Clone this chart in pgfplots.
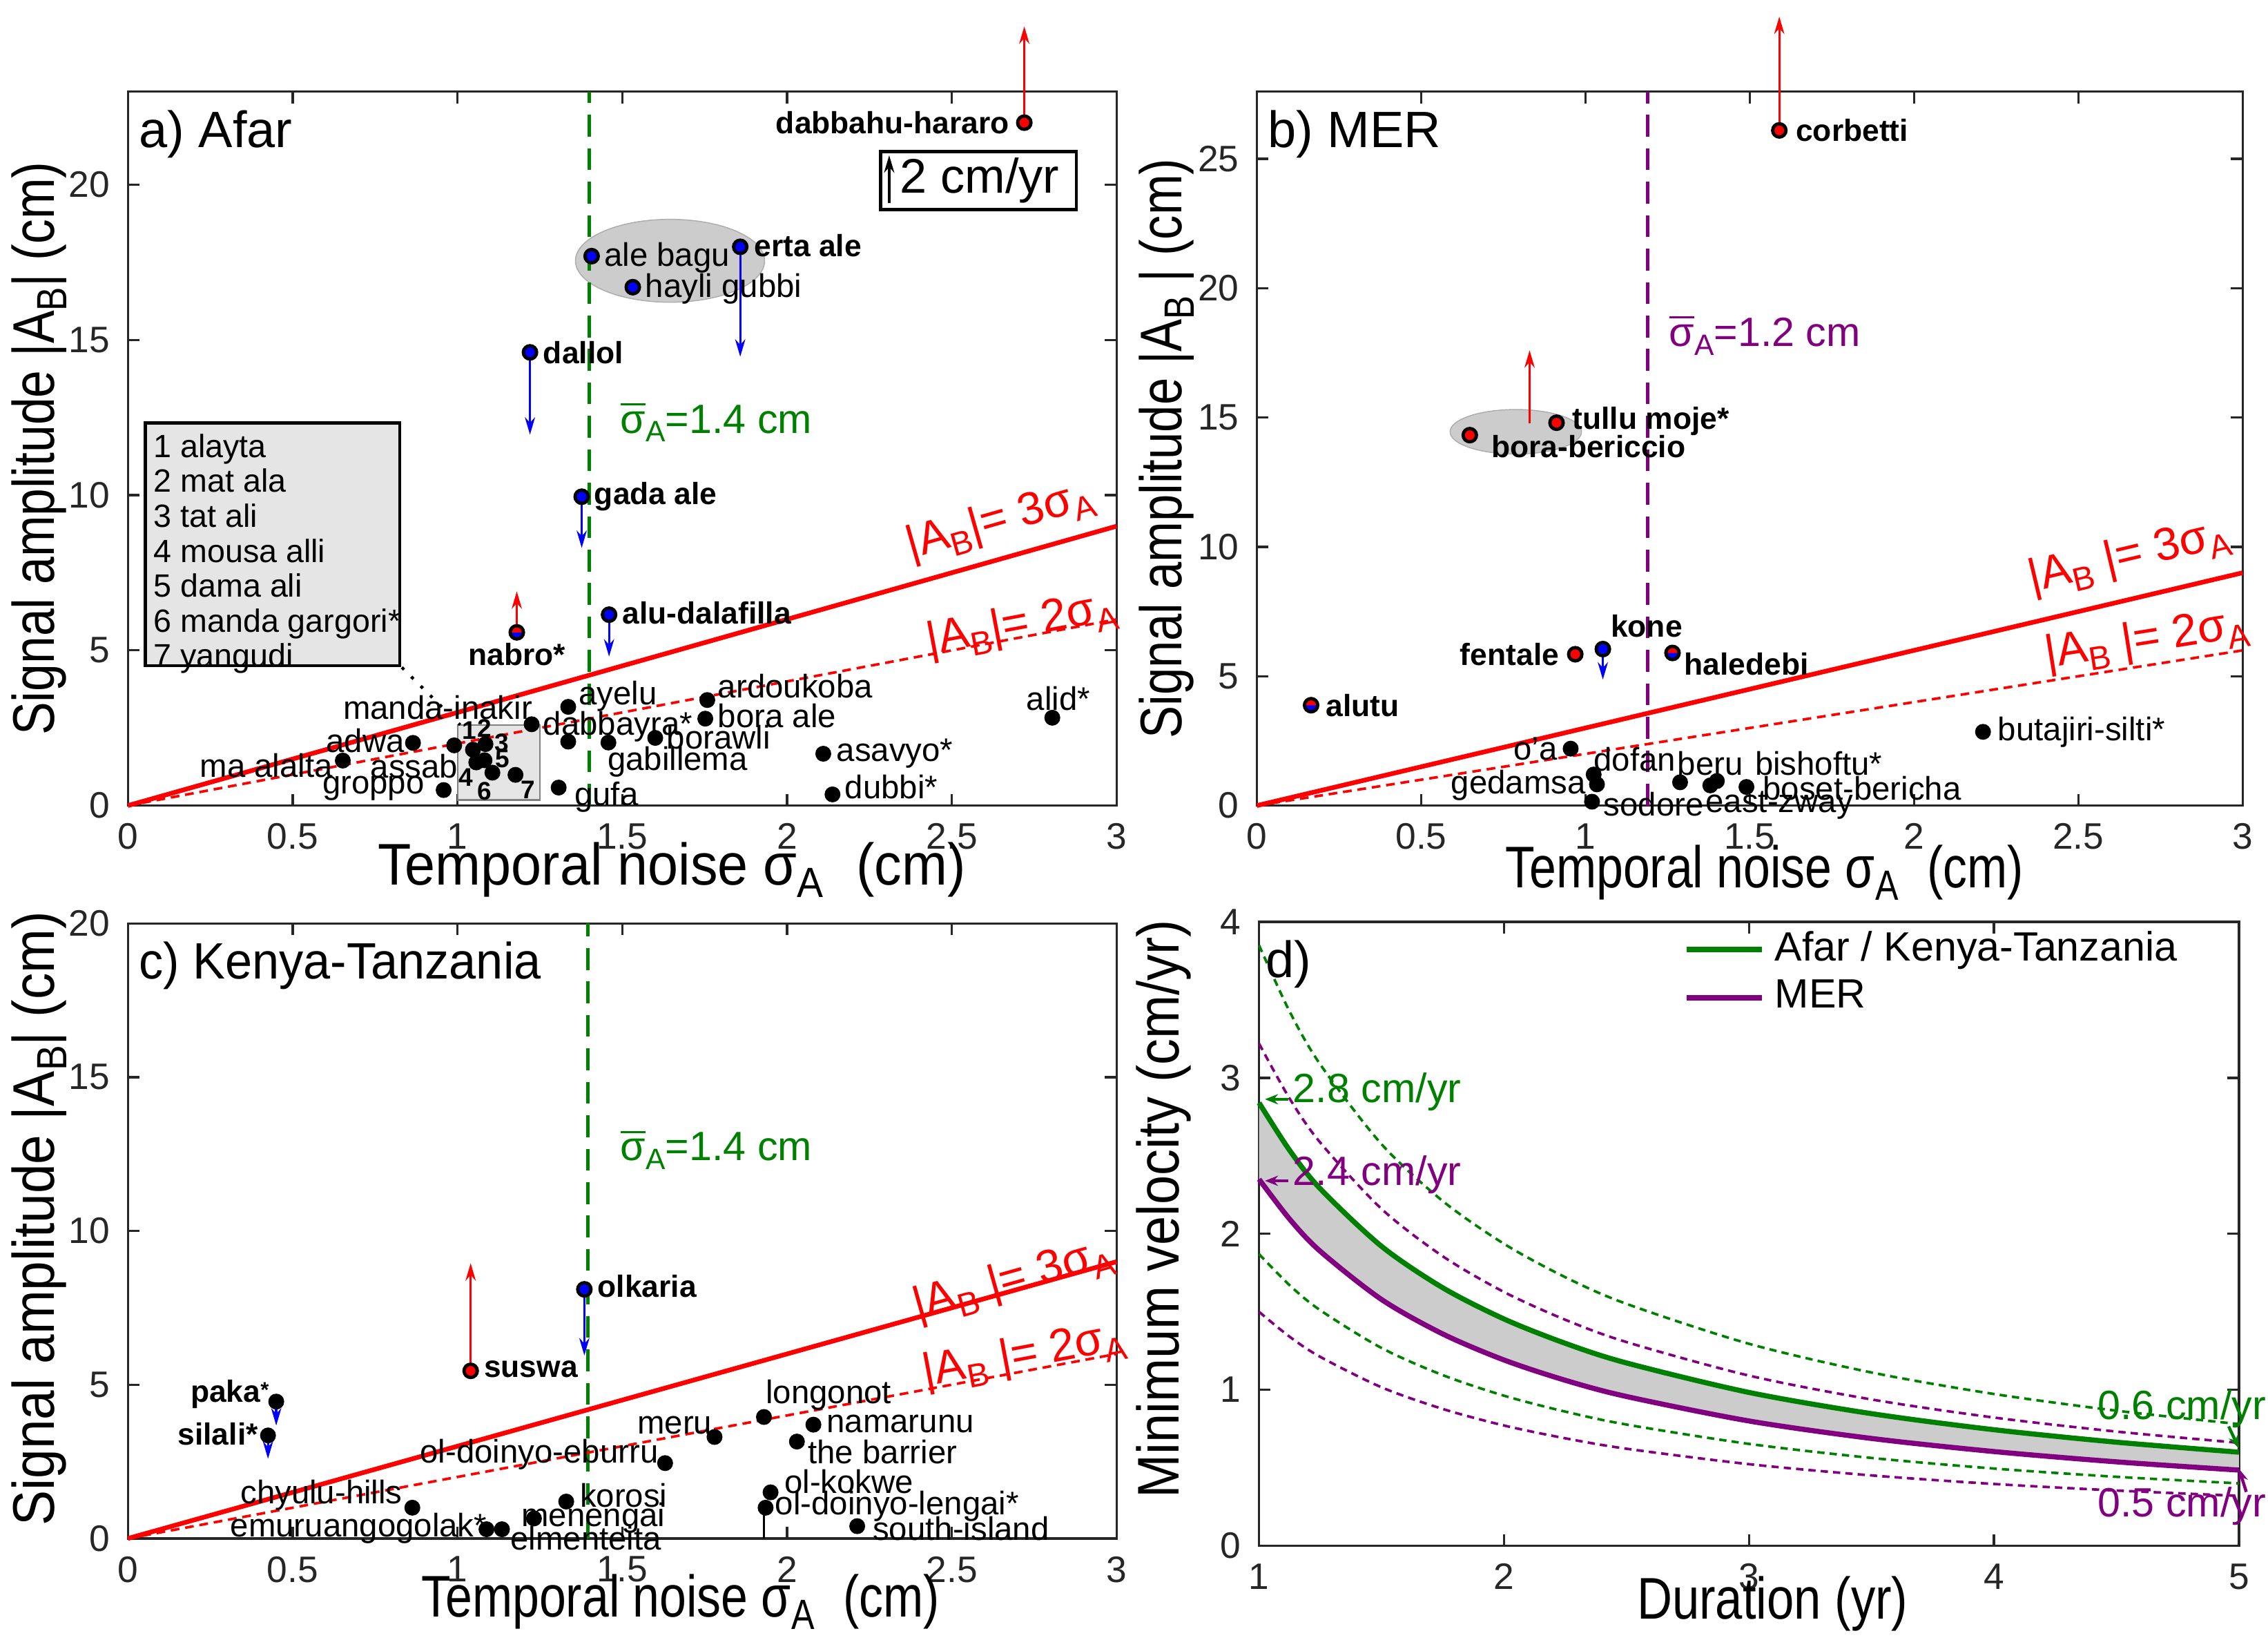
\documentclass[border=0pt]{standalone}
\usepackage{fontspec}
\setmainfont{Liberation Sans}
\usepackage{graphicx}
\usepackage{pgfplots}
\pgfplotsset{compat=1.18}
\usepgfplotslibrary{fillbetween}
\usetikzlibrary{arrows.meta}

\definecolor{mgreen}{rgb}{0,0.5,0}
\definecolor{mpurple}{rgb}{0.5,0,0.5}
\definecolor{axgray}{rgb}{0.15,0.15,0.15}
\definecolor{ellgray}{rgb}{0.8,0.8,0.8}
\definecolor{boxgray}{rgb}{0.9,0.9,0.9}

\newcommand\sub[1]{\raisebox{-0.4ex}{\scalebox{0.72}{#1}}}
\newcommand\sbar{\ensuremath{\overline{\mbox{σ}}}}
\newcommand\tickf{\fontsize{7.2}{8}\selectfont}
\newcommand\labf{\fontsize{11.5}{13}\selectfont}
\newcommand\stf{\fontsize{6.4}{7.2}\selectfont}
\newcommand\bstf{\fontsize{6.0}{7.2}\selectfont\bfseries}
\newcommand\ttlf{\fontsize{10}{12}\selectfont}
\newcommand\rlf{\fontsize{9}{10}\selectfont}
\newcommand\sgf{\fontsize{8}{9}\selectfont}
\newcommand\sx[2]{\scalebox{#1}[1]{#2}}

\tikzset{st/.style={font=\stf, inner sep=0.8pt}, bst/.style={font=\bstf, inner sep=0.8pt}}

\pgfdeclareplotmark{halfrb}{%
  \pgfsetfillcolor{blue}%
  \pgfpathcircle{\pgfpointorigin}{\pgfplotmarksize}\pgfusepathqfill
  \pgfsetfillcolor{red}%
  \pgfpathmoveto{\pgfqpoint{\pgfplotmarksize}{0pt}}%
  \pgfpatharc{0}{180}{\pgfplotmarksize}\pgfpathclose\pgfusepathqfill
  \pgfpathcircle{\pgfpointorigin}{\pgfplotmarksize}\pgfusepathqstroke}

\pgfplotsset{
  panel/.style={scale only axis, anchor=south west, clip=false,
    tick align=inside, major tick length=0.8mm,
    axis line style={axgray, line width=0.45pt},
    every tick/.style={axgray, line width=0.45pt},
    tick label style={font=\tickf, text=axgray},
    /pgf/number format/assume math mode=true,
    xlabel style={font=\labf}, ylabel style={font=\labf}},
  blk/.style={only marks, mark=*, mark size=1.35pt, mark options={fill=black, draw=black}},
  blu/.style={only marks, mark=*, mark size=1.3pt, mark options={fill=blue, draw=black, line width=0.65pt}},
  rd/.style={only marks, mark=*, mark size=1.3pt, mark options={fill=red, draw=black, line width=0.65pt}},
  hrb/.style={only marks, mark=halfrb, mark size=1.3pt, mark options={draw=black, line width=0.65pt}},
  varr/.style={line width=0.45pt, -{Stealth[length=1.2mm, width=0.7mm]}},
}

\pgfplotstableread{
x y
1 2.84
1.125 2.535
1.25 2.289
1.5 1.920
1.75 1.654
2 1.454
2.25 1.298
2.5 1.172
3 0.983
3.5 0.847
4 0.744
4.5 0.664
5 0.600
}\greensolid
\pgfplotstableread{
x y
1 2.35
1.125 2.094
1.25 1.888
1.5 1.579
1.75 1.358
2 1.191
2.25 1.061
2.5 0.957
3 0.800
3.5 0.688
4 0.604
4.5 0.538
5 0.485
}\purplesolid

\begin{document}
\begin{tikzpicture}

%%%%%%%%%%%%%%%%%%%% a) Afar
\begin{axis}[panel, at={(8.8mm,58.0mm)}, width=68mm, height=49.1mm,
  xmin=0, xmax=3, ymin=0, ymax=23,
  xtick={0,0.5,1,1.5,2,2.5,3}, ytick={0,5,10,15,20},
  xlabel={\sx{0.93}{Temporal noise σ\sub{A}\hspace{0.6em}(cm)}},
  ylabel={\sx{0.84}{Signal amplitude |A\sub{B}| (cm)}},
  xlabel style={at={(axis description cs:0.55,-0.111)}, anchor=base},
  ylabel style={at={(axis description cs:-0.09,0.5)}, anchor=center}]
\draw[fill=ellgray, draw=ellgray!85!black, line width=0.2pt] (axis cs:1.645,17.55) ellipse [x radius=0.287, y radius=1.335];
\draw[fill=boxgray, draw=gray, line width=0.3pt] (axis cs:1.0,0.18) rectangle (axis cs:1.25,2.6);
\draw[fill=boxgray, draw=black, line width=0.6pt] (axis cs:0.053,4.51) rectangle (axis cs:0.825,12.33);
\node[anchor=north west, inner sep=0, align=left, font=\fontsize{6.3}{6.83}\selectfont] at (axis cs:0.075,12.0)
  {1 alayta\\2 mat ala\\3 tat ali\\4 mousa alli\\5 dama ali\\6 manda gargori*\\7 yangudi};
\draw[dotted, line width=0.6pt] (axis cs:0.831,4.45) -- (axis cs:1.008,2.6);
\addplot[mgreen, line width=0.7pt, dash pattern=on 1.5mm off 0.8mm] coordinates {(1.4,0) (1.4,23)};
\addplot[red, line width=0.9pt] coordinates {(0,0) (3,9)};
\addplot[red, line width=0.5pt, dash pattern=on 0.6mm off 0.4mm] coordinates {(0,0) (3,6)};
\addplot[red, varr] coordinates {(2.72,22.0) (2.72,25.1)};
\addplot[blue, varr] coordinates {(1.858,18.0) (1.858,14.46)};
\addplot[blue, varr] coordinates {(1.22,14.6) (1.22,11.95)};
\addplot[blue, varr] coordinates {(1.377,9.95) (1.377,8.3)};
\addplot[blue, varr] coordinates {(1.46,6.15) (1.46,4.8)};
\addplot[red, varr] coordinates {(1.18,5.6) (1.18,6.9)};
\draw[black, line width=0.6pt] (axis cs:2.284,19.2) rectangle (axis cs:2.878,21.07);
\addplot[black, line width=0.6pt, -{Stealth[length=1.2mm,width=0.7mm]}] coordinates {(2.31,19.4) (2.31,20.95)};
\node[anchor=west, font=\fontsize{9.5}{10}\selectfont, inner sep=0] at (axis cs:2.34,20.13) {2 cm/yr};
\addplot[blk] table {
x y
0.652 1.45
0.865 2.02
0.958 0.50
0.99 1.94
1.047 1.80
1.085 1.98
1.057 1.39
1.082 1.46
1.106 1.06
1.176 0.99
1.225 2.62
1.336 3.18
1.336 2.06
1.307 0.58
1.458 2.03
1.600 2.18
1.752 2.80
1.758 3.40
2.110 1.67
2.138 0.36
2.805 2.83
};
\addplot[blu] table {
x y
1.858 18.0
1.407 17.7
1.532 16.7
1.22 14.6
1.377 9.95
1.46 6.15
};
\addplot[rd] table {
x y
2.72 22.0
};
\addplot[hrb] table {
x y
1.18 5.58
};
\node[bst, anchor=east] at (axis cs:2.69,22.0) {dabbahu-hararo};
\node[bst, anchor=west] at (axis cs:1.885,18.05) {erta ale};
\node[st, anchor=west] at (axis cs:1.43,17.65) {ale bagu};
\node[st, anchor=west] at (axis cs:1.555,16.65) {hayli gubbi};
\node[bst, anchor=west] at (axis cs:1.245,14.6) {dallol};
\node[bst, anchor=west] at (axis cs:1.40,9.95) {gada ale};
\node[bst, anchor=west] at (axis cs:1.485,6.2) {alu-dalafilla};
\node[bst] at (axis cs:1.18,4.88) {nabro*};
\node[st] at (axis cs:1.487,3.53) {ayelu};
\node[st, anchor=west] at (axis cs:1.245,2.55) {dabbayra*};
\node[st, anchor=west] at (axis cs:1.775,3.85) {ardoukoba};
\node[st, anchor=west] at (axis cs:1.775,2.9) {bora ale};
\node[st, anchor=west] at (axis cs:1.62,2.2) {borawli};
\node[st, anchor=west] at (axis cs:1.44,1.4) {gabillema};
\node[st, anchor=west] at (axis cs:1.34,0.28) {gufa};
\node[st, anchor=west] at (axis cs:2.135,1.67) {asavyo*};
\node[st, anchor=west] at (axis cs:2.16,0.6) {dubbi*};
\node[st] at (axis cs:2.823,3.44) {alid*};
\node[st] at (axis cs:0.94,3.16) {manda-inakir};
\node[st] at (axis cs:0.72,2.09) {adwa};
\node[st] at (axis cs:0.42,1.3) {ma alalta};
\node[st] at (axis cs:0.869,1.26) {assab};
\node[st] at (axis cs:0.745,0.56) {groppo};
\node[font=\fontsize{5}{5}\selectfont\bfseries, inner sep=0] at (axis cs:1.036,2.42) {1};
\node[font=\fontsize{5}{5}\selectfont\bfseries, inner sep=0] at (axis cs:1.081,2.50) {2};
\node[font=\fontsize{5}{5}\selectfont\bfseries, inner sep=0] at (axis cs:1.134,2.02) {3};
\node[font=\fontsize{5}{5}\selectfont\bfseries, inner sep=0] at (axis cs:1.026,0.91) {4};
\node[font=\fontsize{5}{5}\selectfont\bfseries, inner sep=0] at (axis cs:1.137,1.50) {5};
\node[font=\fontsize{5}{5}\selectfont\bfseries, inner sep=0] at (axis cs:1.081,0.47) {6};
\node[font=\fontsize{5}{5}\selectfont\bfseries, inner sep=0] at (axis cs:1.214,0.51) {7};
\node[red, font=\rlf, rotate=15.9] at (axis cs:2.647,9.16) {|A\sub{B}|= 3σ\sub{A}};
\node[red, font=\rlf, rotate=10.7] at (axis cs:2.713,5.81) {|A\sub{B}|= 2σ\sub{A}};
\node[mgreen, anchor=west, font=\sgf] at (axis cs:1.44,12.37) {\sbar\sub{A}=1.4 cm};
\node[anchor=north west, inner sep=0, font=\ttlf] at (axis description cs:0.0103,0.975) {a) Afar};
\end{axis}

%%%%%%%%%%%%%%%%%%%% b) MER
\begin{axis}[panel, at={(86.45mm,58.0mm)}, width=67.8mm, height=49.1mm,
  xmin=0, xmax=3, ymin=0, ymax=27.6,
  xtick={0,0.5,1,1.5,2,2.5,3}, ytick={0,5,10,15,20,25},
  xlabel={\sx{0.82}{Temporal noise σ\sub{A}\hspace{0.6em}(cm)}},
  ylabel={\sx{0.83}{Signal amplitude |A\sub{B} | (cm)}},
  xlabel style={at={(axis description cs:0.515,-0.115)}, anchor=base},
  ylabel style={at={(axis description cs:-0.0914,0.5)}, anchor=center}]
\draw[fill=ellgray, draw=ellgray!85!black, line width=0.2pt] (axis cs:0.788,14.45) ellipse [x radius=0.2, y radius=0.86];
\addplot[mpurple, line width=0.7pt, dash pattern=on 1.5mm off 0.8mm] coordinates {(1.19,0) (1.19,27.6)};
\addplot[red, line width=0.9pt] coordinates {(0,0) (3,9)};
\addplot[red, line width=0.5pt, dash pattern=on 0.6mm off 0.4mm] coordinates {(0,0) (3,6)};
\addplot[red, varr] coordinates {(1.59,26.1) (1.59,30.5)};
\addplot[red, varr] coordinates {(0.83,14.77) (0.83,17.6)};
\addplot[blue, varr] coordinates {(1.053,6.0) (1.053,4.87)};
\addplot[blk] table {
x y
2.21 2.85
0.955 2.2
1.025 1.2
1.035 0.82
1.02 0.15
1.288 0.9
1.38 0.78
1.40 0.95
1.49 0.72
};
\addplot[rd] table {
x y
1.59 26.1
0.912 14.8
0.648 14.32
0.969 5.85
};
\addplot[blu] table {
x y
1.053 6.05
};
\addplot[hrb] table {
x y
1.265 5.9
0.165 3.88
};
\node[bst, anchor=west] at (axis cs:1.625,26.1) {corbetti};
\node[bst, anchor=west] at (axis cs:0.945,14.85) {tullu moje*};
\node[bst] at (axis cs:1.009,13.87) {bora-bericcio};
\node[bst] at (axis cs:1.186,6.94) {kone};
\node[bst, anchor=east] at (axis cs:0.935,5.85) {fentale};
\node[bst, anchor=west] at (axis cs:1.285,5.48) {haledebi};
\node[bst, anchor=west] at (axis cs:0.195,3.88) {alutu};
\node[st, anchor=west] at (axis cs:2.24,2.85) {butajiri-silti*};
\node[st, anchor=east] at (axis cs:0.93,2.2) {o'a};
\node[st] at (axis cs:1.15,1.79) {dofan};
\node[st] at (axis cs:1.38,1.62) {beru};
\node[st] at (axis cs:1.71,1.62) {bishoftu*};
\node[st] at (axis cs:0.796,0.78) {gedamsa};
\node[st] at (axis cs:1.208,0.06) {sodore};
\node[st, anchor=west] at (axis cs:1.525,0.67) {boset-bericha};
\node[st] at (axis cs:1.59,0.0) {east-zway};
\node[red, font=\rlf, rotate=13.3] at (axis cs:2.655,9.6) {|A\sub{B} |= 3σ\sub{A}};
\node[red, font=\rlf, rotate=9] at (axis cs:2.708,6.38) {|A\sub{B} |= 2σ\sub{A}};
\node[mpurple, anchor=west, font=\sgf] at (axis cs:1.2,18.2) {\sbar\sub{A}=1.2 cm};
\node[anchor=north west, inner sep=0, font=\ttlf] at (axis description cs:0.0103,0.975) {b) MER};
\end{axis}

%%%%%%%%%%%%%%%%%%%% c) Kenya-Tanzania
\begin{axis}[panel, at={(8.8mm,7.6mm)}, width=68mm, height=42.3mm,
  xmin=0, xmax=3, ymin=0, ymax=20,
  xtick={0,0.5,1,1.5,2,2.5,3}, ytick={0,5,10,15,20},
  xlabel={\sx{0.82}{Temporal noise σ\sub{A}\hspace{0.6em}(cm)}},
  ylabel={\sx{0.9}{Signal amplitude |A\sub{B}| (cm)}},
  xlabel style={at={(axis description cs:0.559,-0.127)}, anchor=base},
  ylabel style={at={(axis description cs:-0.09,0.52)}, anchor=center}]
\addplot[mgreen, line width=0.7pt, dash pattern=on 1.5mm off 0.8mm] coordinates {(1.395,0) (1.395,20)};
\addplot[red, line width=0.9pt] coordinates {(0,0) (3,9)};
\addplot[red, line width=0.5pt, dash pattern=on 0.6mm off 0.4mm] coordinates {(0,0) (3,6)};
\addplot[black, line width=0.3pt] coordinates {(1.93,0) (1.93,1.0)};
\addplot[red, varr] coordinates {(1.04,5.45) (1.04,8.95)};
\addplot[blue, varr] coordinates {(1.385,8.1) (1.385,5.95)};
\addplot[blue, varr] coordinates {(0.45,4.4) (0.45,3.67)};
\addplot[blue, varr] coordinates {(0.425,3.3) (0.425,2.59)};
\addplot[blk] table {
x y
0.45 4.45
0.425 3.35
1.93 3.95
2.08 3.7
2.03 3.15
1.78 3.3
1.63 2.45
0.863 1.0
1.33 1.2
1.232 0.65
1.088 0.3
1.135 0.3
1.95 1.5
1.935 1.0
2.213 0.4
};
\addplot[rd] table {
x y
1.04 5.45
};
\addplot[blu] table {
x y
1.385 8.1
};
\node[bst, anchor=west] at (axis cs:1.41,8.2) {olkaria};
\node[bst, anchor=west] at (axis cs:1.065,5.5) {suswa};
\node[bst] at (axis cs:0.309,4.7) {paka\raisebox{0.3ex}{\scalebox{0.7}{*}}};
\node[bst] at (axis cs:0.273,3.39) {silali*};
\node[st] at (axis cs:2.126,4.66) {longonot};
\node[st, anchor=west] at (axis cs:2.105,3.72) {namarunu};
\node[st] at (axis cs:2.29,2.82) {the barrier};
\node[st] at (axis cs:1.659,3.67) {meru};
\node[st] at (axis cs:1.248,2.73) {ol-doinyo-eburru};
\node[st] at (axis cs:0.587,1.41) {chyulu-hills};
\node[st] at (axis cs:1.504,1.41) {korosi};
\node[st] at (axis cs:1.412,0.66) {menengai};
\node[st] at (axis cs:0.70,0.33) {emuruangogolak*};
\node[st] at (axis cs:1.39,0.0) {elmenteita};
\node[st] at (axis cs:2.188,1.84) {ol-kokwe};
\node[st] at (axis cs:2.334,1.04) {ol-doinyo-lengai*};
\node[st] at (axis cs:2.528,0.33) {south-island};
\node[red, font=\rlf, rotate=15.7] at (axis cs:2.686,8.38) {|A\sub{B} |= 3σ\sub{A}};
\node[red, font=\rlf, rotate=10.6] at (axis cs:2.72,5.93) {|A\sub{B} |= 2σ\sub{A}};
\node[mgreen, anchor=west, font=\sgf] at (axis cs:1.44,12.66) {\sbar\sub{A}=1.4 cm};
\node[anchor=north west, inner sep=0, font=\ttlf] at (axis description cs:0.0103,0.972) {\sx{0.95}{c) Kenya-Tanzania}};
\end{axis}

%%%%%%%%%%%%%%%%%%%% d)
\begin{axis}[panel, at={(86.6mm,7.1mm)}, width=67.4mm, height=42.9mm,
  xmin=1, xmax=5, ymin=0, ymax=4,
  xtick={1,2,3,4,5}, ytick={0,1,2,3,4},
  xlabel={\sx{0.83}{Duration (yr)}},
  ylabel={\sx{0.89}{Minimum velocity (cm/yr)}},
  xlabel style={at={(axis description cs:0.524,-0.117)}, anchor=base},
  ylabel style={at={(axis description cs:-0.097,0.54)}, anchor=center},
  legend style={draw=none, fill=none, at={(0.417,1.02)}, anchor=north west, font=\fontsize{8}{9}\selectfont, row sep=-0.6mm},
  legend cell align=left,
  legend image code/.code={\draw[#1, line width=1.0pt] (0mm,0mm) -- (5.2mm,0mm);}]
\addplot[name path=G, draw=none, smooth, forget plot] table {\greensolid};
\addplot[name path=P, draw=none, smooth, forget plot] table {\purplesolid};
\addplot[ellgray, forget plot] fill between[of=G and P];
\addplot[mgreen, line width=0.5pt, dash pattern=on 0.5mm off 0.35mm, smooth, forget plot] table {
x y
1 3.85
1.125 3.425
1.25 3.086
1.5 2.575
1.75 2.210
2 1.936
2.25 1.722
2.5 1.551
3 1.295
3.5 1.111
4 0.973
4.5 0.866
5 0.78
};
\addplot[mgreen, line width=0.5pt, dash pattern=on 0.5mm off 0.35mm, smooth, forget plot] table {
x y
1 1.87
1.125 1.670
1.25 1.510
1.5 1.268
1.75 1.094
2 0.962
2.25 0.860
2.5 0.777
3 0.653
3.5 0.563
4 0.495
4.5 0.442
5 0.40
};
\addplot[mpurple, line width=0.5pt, dash pattern=on 0.5mm off 0.35mm, smooth, forget plot] table {
x y
1 3.22
1.125 2.867
1.25 2.585
1.5 2.160
1.75 1.856
2 1.627
2.25 1.449
2.5 1.306
3 1.091
3.5 0.938
4 0.822
4.5 0.732
5 0.66
};
\addplot[mpurple, line width=0.5pt, dash pattern=on 0.5mm off 0.35mm, smooth, forget plot] table {
x y
1 1.5
1.125 1.340
1.25 1.211
1.5 1.016
1.75 0.877
2 0.771
2.25 0.689
2.5 0.622
3 0.523
3.5 0.451
4 0.396
4.5 0.354
5 0.32
};
\addplot[mgreen, line width=1.0pt, smooth] table {\greensolid};
\addlegendentry{Afar / Kenya-Tanzania}
\addplot[mpurple, line width=1.0pt, smooth] table {\purplesolid};
\addlegendentry{MER}
\node[mgreen, font=\sgf] at (axis cs:1.482,2.91) {2.8 cm/yr};
\draw[mgreen, line width=0.6pt, -{Stealth[length=0.9mm,width=0.7mm]}] (axis cs:1.119,2.863) -- (axis cs:1.024,2.863);
\node[mpurple, font=\sgf] at (axis cs:1.482,2.38) {2.4 cm/yr};
\draw[mpurple, line width=0.6pt, -{Stealth[length=0.9mm,width=0.7mm]}] (axis cs:1.119,2.34) -- (axis cs:1.024,2.34);
\node[mgreen, font=\sgf, anchor=west, inner sep=0] at (axis cs:4.42,0.876) {0.6 cm/yr};
\draw[mgreen, line width=0.6pt, -{Stealth[length=0.9mm,width=0.7mm]}] (axis cs:4.958,0.765) -- (axis cs:5.0,0.625);
\node[mpurple, font=\sgf, anchor=west, inner sep=0] at (axis cs:4.42,0.252) {0.5 cm/yr};
\draw[mpurple, line width=0.6pt, -{Stealth[length=0.9mm,width=0.7mm]}] (axis cs:5.03,0.345) -- (axis cs:5.0,0.494);
\node[anchor=north west, inner sep=0, font=\ttlf] at (axis description cs:0.006,0.972) {d)};
\end{axis}

\pgfresetboundingbox
\path[use as bounding box] (0,0) rectangle (156mm,113.4mm);
\end{tikzpicture}
\end{document}
